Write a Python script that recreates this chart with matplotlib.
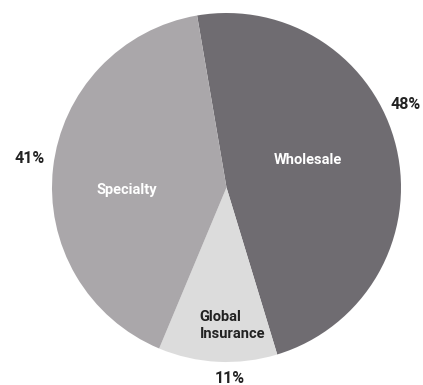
import matplotlib
matplotlib.use("Agg")
import matplotlib.pyplot as plt

# revenue split by segment
segments = ["Wholesale", "Global\nInsurance", "Specialty"]
shares = [48, 11, 41]
colors = ["#6f6c71", "#dcdcdc", "#aaa7aa"]
name_colors = ["white", "#222222", "white"]

# label positions (pie radius = 1)
name_pos = [(0.467, 0.158), (-0.155, -0.79), (-0.570, -0.014)]
name_ha = ["center", "left", "center"]
pct_pos = [(1.029, 0.473), (0.02, -1.092), (-1.126, 0.169)]

font = "Roboto"

fig = plt.figure(figsize=(4.23, 3.85), dpi=100)
ax = fig.add_axes([52 / 423, 23 / 385, 349 / 423, 349 / 385])

ax.pie(shares, colors=colors, startangle=99.7, counterclock=False,
       wedgeprops=dict(linewidth=0))

for seg, (x, y), ha, c in zip(segments, name_pos, name_ha, name_colors):
    ax.text(x, y, seg, ha=ha, va="center", color=c, fontsize=10.5,
            fontweight="bold", family=font, multialignment="left",
            linespacing=1.3)

for v, (x, y) in zip(shares, pct_pos):
    ax.text(x, y, f"{v}%", ha="center", va="center", color="#222222",
            fontsize=11.5, fontweight="bold", family=font)

ax.set_xlim(-1, 1)
ax.set_ylim(-1, 1)
ax.set_aspect("equal")
ax.axis("off")

fig.savefig("out.png", dpi=100)
